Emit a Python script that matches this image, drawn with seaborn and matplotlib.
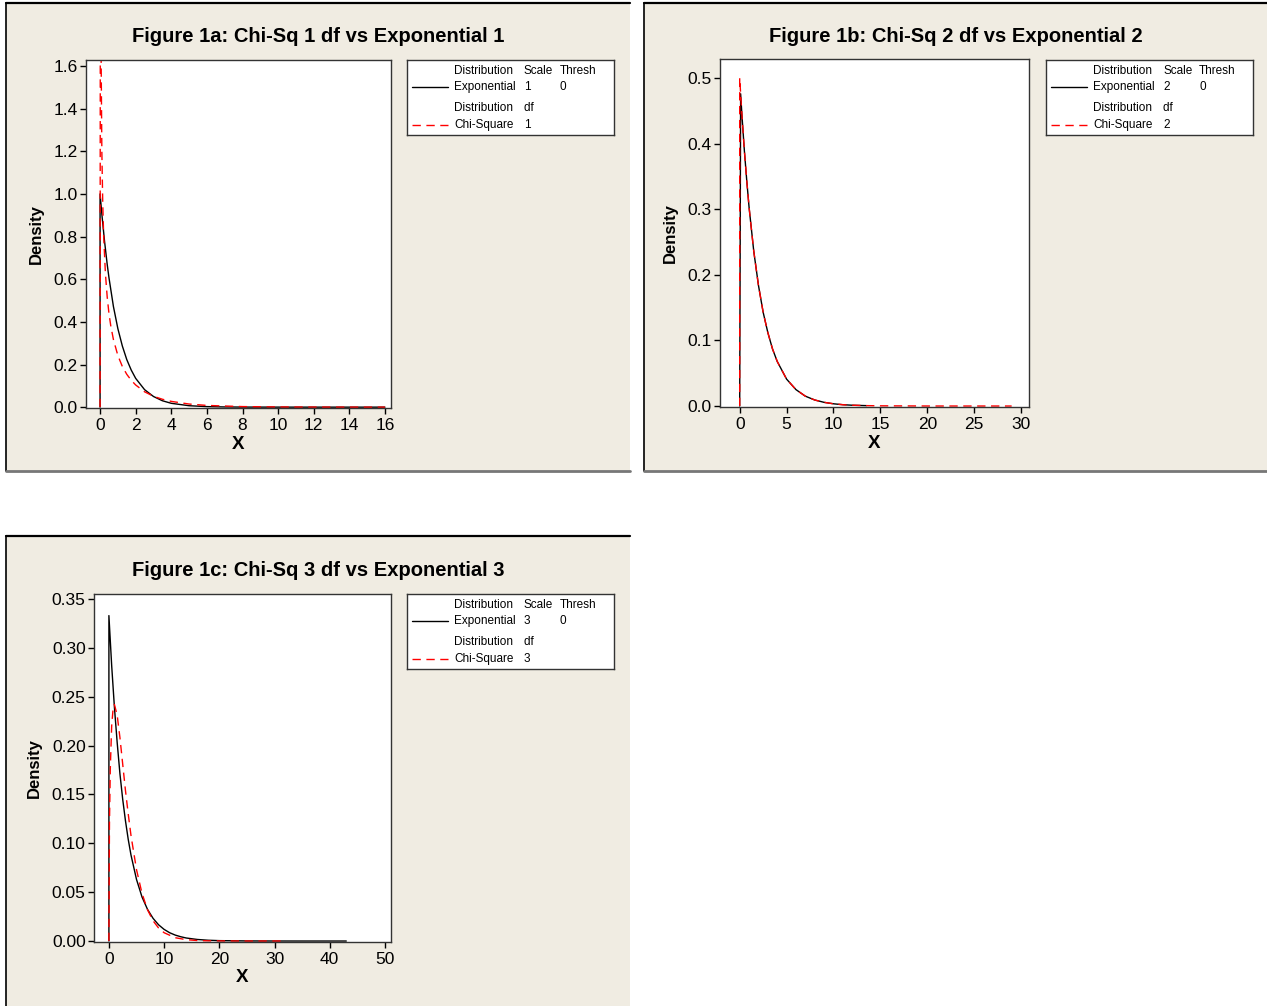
import matplotlib
matplotlib.use("Agg")
import matplotlib.pyplot as plt
import seaborn as sns
from matplotlib.patches import Rectangle
from matplotlib.lines import Line2D

# ---- data ----
# Figure 1a: Exponential scale 1 vs Chi-Square 1 df
exp1_x = [0, 0, 0.1, 0.25, 0.4, 0.5, 0.75, 1, 1.25, 1.5, 1.75, 2, 2.5, 3, 3.5, 4, 5,
          6, 7, 8, 10, 12, 14, 16]
exp1_y = [0, 1.0, 0.905, 0.779, 0.670, 0.607, 0.472, 0.368, 0.287, 0.223, 0.174, 0.135,
          0.082, 0.050, 0.030, 0.018, 0.0067, 0.0025, 0.0009, 0.0003, 0.0001, 0, 0, 0]
chi1_x = [0, 0.02, 0.05, 0.1, 0.15, 0.2, 0.3, 0.4, 0.5, 0.6, 0.75, 1, 1.25, 1.5, 1.75,
          2, 2.5, 3, 3.5, 4, 5, 6, 8, 10, 12, 14, 16]
chi1_y = [0, 2.8, 1.74, 1.2, 0.956, 0.807, 0.627, 0.517, 0.439, 0.382, 0.317, 0.242,
          0.191, 0.154, 0.126, 0.104, 0.072, 0.051, 0.037, 0.027, 0.0146, 0.0081,
          0.0026, 0.0009, 0.0003, 0.0001, 0]

# Figure 1b: Exponential scale 2 vs Chi-Square 2 df
exp2_x = [0, 0.1, 0.25, 0.5, 0.75, 1, 1.5, 2, 2.5, 3, 3.5, 4, 5, 6, 7, 8, 9, 10, 11,
          12, 13.5]
exp2_y = [0, 0.476, 0.441, 0.389, 0.344, 0.303, 0.236, 0.184, 0.143, 0.112, 0.087,
          0.068, 0.041, 0.025, 0.015, 0.0092, 0.0056, 0.0034, 0.002, 0.0012, 0.0006]
chi2_x = [0, 0, 0.25, 0.5, 0.75, 1, 1.5, 2, 2.5, 3, 3.5, 4, 5, 6, 7, 8, 9, 10, 11, 12,
          13.5, 15, 20, 25, 29]
chi2_y = [0, 0.5, 0.441, 0.389, 0.344, 0.303, 0.236, 0.184, 0.143, 0.112, 0.087, 0.068,
          0.041, 0.025, 0.015, 0.0092, 0.0056, 0.0034, 0.002, 0.0012, 0.0006, 0.0003,
          0.00002, 0, 0]

# Figure 1c: Exponential scale 3 vs Chi-Square 3 df
exp3_x = [0, 0, 0.5, 1, 1.5, 2, 2.5, 3, 3.5, 4, 5, 6, 7, 8, 9, 10, 11, 12, 13, 14, 16,
          18, 20, 25, 30, 35, 43]
exp3_y = [0, 0.333, 0.282, 0.239, 0.203, 0.171, 0.145, 0.123, 0.104, 0.088, 0.063,
          0.045, 0.0323, 0.0232, 0.0166, 0.0119, 0.0085, 0.0061, 0.0044, 0.0031, 0.0016,
          0.0008, 0.0004, 0.00008, 0.00002, 0, 0]
chi3_x = [0, 0.1, 0.25, 0.5, 0.75, 1, 1.5, 2, 2.5, 3, 3.5, 4, 5, 6, 7, 8, 9, 10, 12,
          14, 16, 18, 20, 25, 32]
chi3_y = [0, 0.12, 0.176, 0.22, 0.237, 0.242, 0.231, 0.208, 0.181, 0.154, 0.130, 0.108,
          0.073, 0.0487, 0.0319, 0.0207, 0.0133, 0.0085, 0.0034, 0.0014, 0.0005, 0.0002,
          0.0001, 0, 0]

panels = [
    dict(title="Figure 1a: Chi-Sq 1 df vs Exponential 1", param="1",
         ex=exp1_x, ey=exp1_y, cx=chi1_x, cy=chi1_y,
         xticks=list(range(0, 17, 2)), yticks=[0, 0.2, 0.4, 0.6, 0.8, 1.0, 1.2, 1.4, 1.6],
         yfmt="{:.1f}", xlim=(-0.79, 16.34), ylim=(-0.004, 1.628),
         bg=(6, 3, 630, 471), ax_px=(86, 60, 391, 408), leg_px=(407, 60)),
    dict(title="Figure 1b: Chi-Sq 2 df vs Exponential 2", param="2",
         ex=exp2_x, ey=exp2_y, cx=chi2_x, cy=chi2_y,
         xticks=list(range(0, 31, 5)), yticks=[0, 0.1, 0.2, 0.3, 0.4, 0.5],
         yfmt="{:.1f}", xlim=(-2.1, 30.85), ylim=(-0.0015, 0.529),
         bg=(644, 3, 1267, 471), ax_px=(720, 59, 1029, 407), leg_px=(1046, 60)),
    dict(title="Figure 1c: Chi-Sq 3 df vs Exponential 3", param="3",
         ex=exp3_x, ey=exp3_y, cx=chi3_x, cy=chi3_y,
         xticks=list(range(0, 51, 10)), yticks=[0, 0.05, 0.1, 0.15, 0.2, 0.25, 0.3, 0.35],
         yfmt="{:.2f}", xlim=(-2.7, 51.1), ylim=(-0.001, 0.3551),
         bg=(6, 536, 630, 1006), ax_px=(94, 594, 391, 942), leg_px=(407, 594)),
]

sns.set_style("white")
plt.rcParams["font.family"] = ["Liberation Sans", "DejaVu Sans"]
plt.rcParams["text.color"] = "black"
plt.rcParams["axes.labelcolor"] = "black"
plt.rcParams["xtick.color"] = "black"
plt.rcParams["ytick.color"] = "black"

W, H = 1267, 1006
fig = plt.figure(figsize=(W / 100, H / 100), dpi=100)
fig.patch.set_facecolor("white")

BEIGE = "#F0ECE2"


def fx(px):
    return px / W


def fy(py):
    return 1 - py / H


for p in panels:
    # beige panel with Minitab-like edges
    x0, y0, x1, y1 = p["bg"]
    fig.patches.append(Rectangle((fx(x0), fy(y1)), fx(x1 - x0), (y1 - y0) / H,
                                 transform=fig.transFigure, facecolor=BEIGE,
                                 edgecolor="none", zorder=-10))
    fig.add_artist(Line2D([fx(x0), fx(x1)], [fy(y0), fy(y0)], color="black", lw=1.6,
                          zorder=-5))
    fig.add_artist(Line2D([fx(x0), fx(x0)], [fy(y0), fy(y1)], color="black", lw=1.2,
                          zorder=-5))
    if y1 < H:
        fig.add_artist(Line2D([fx(x0), fx(x1)], [fy(y1), fy(y1)], color="#777777", lw=2,
                              zorder=-5))

    fig.text(fx((x0 + x1) / 2), fy(y0 + 34), p["title"], ha="center", va="center",
             fontsize=14.5, fontweight="bold")

    # main axes
    a0, b0, a1, b1 = p["ax_px"]
    ax = fig.add_axes([fx(a0), fy(b1), fx(a1 - a0), (b1 - b0) / H])
    ax.set_facecolor("white")
    sns.lineplot(x=p["ex"], y=p["ey"], ax=ax, color="black", lw=1.0,
                 estimator=None, sort=False)
    sns.lineplot(x=p["cx"], y=p["cy"], ax=ax, color="red", lw=1.0,
                 estimator=None, sort=False, dashes=False, linestyle=(0, (6, 4)))
    ax.set_xlim(*p["xlim"])
    ax.set_ylim(*p["ylim"])
    ax.set_xticks(p["xticks"])
    ax.set_xticklabels([str(t) for t in p["xticks"]])
    ax.set_yticks(p["yticks"])
    ax.set_yticklabels([p["yfmt"].format(t) for t in p["yticks"]])
    ax.tick_params(axis="both", which="major", direction="out", length=4, width=1,
                   labelsize=12.5, pad=2, color="black", left=True, bottom=True)
    ax.tick_params(axis="x", pad=3)
    for s in ax.spines.values():
        s.set_color("#333333")
        s.set_linewidth(1.0)
    ax.set_xlabel("X", fontsize=13.5, fontweight="bold", labelpad=2)
    ax.set_ylabel("Density", fontsize=12, fontweight="bold", labelpad=7)
    ax.grid(False)

    # legend box
    lx, ly = p["leg_px"]
    lw_, lh_ = 207, 75
    lax = fig.add_axes([fx(lx), fy(ly + lh_), fx(lw_), lh_ / H])
    lax.set_xlim(0, lw_)
    lax.set_ylim(lh_, 0)
    lax.set_xticks([])
    lax.set_yticks([])
    lax.set_facecolor("white")
    for s in lax.spines.values():
        s.set_color("#333333")
        s.set_linewidth(1.0)
    fs = 8.5
    c1, c2, c3 = 47, 117, 153
    lax.text(c1, 11, "Distribution", fontsize=fs, va="center")
    lax.text(c2, 11, "Scale", fontsize=fs, va="center")
    lax.text(c3, 11, "Thresh", fontsize=fs, va="center")
    lax.plot([5, 41], [27, 27], color="black", lw=1.0)
    lax.text(c1, 27, "Exponential", fontsize=fs, va="center")
    lax.text(c2, 27, p["param"], fontsize=fs, va="center")
    lax.text(c3, 27, "0", fontsize=fs, va="center")
    lax.text(c1, 48, "Distribution", fontsize=fs, va="center")
    lax.text(c2, 48, "d\u200bf", fontsize=fs, va="center")
    lax.plot([5, 41], [65, 65], color="red", lw=1.0, linestyle=(0, (6, 4)))
    lax.text(c1, 65, "Chi-Square", fontsize=fs, va="center")
    lax.text(c2, 65, p["param"], fontsize=fs, va="center")

fig.savefig("out.png", dpi=100, facecolor="white")
